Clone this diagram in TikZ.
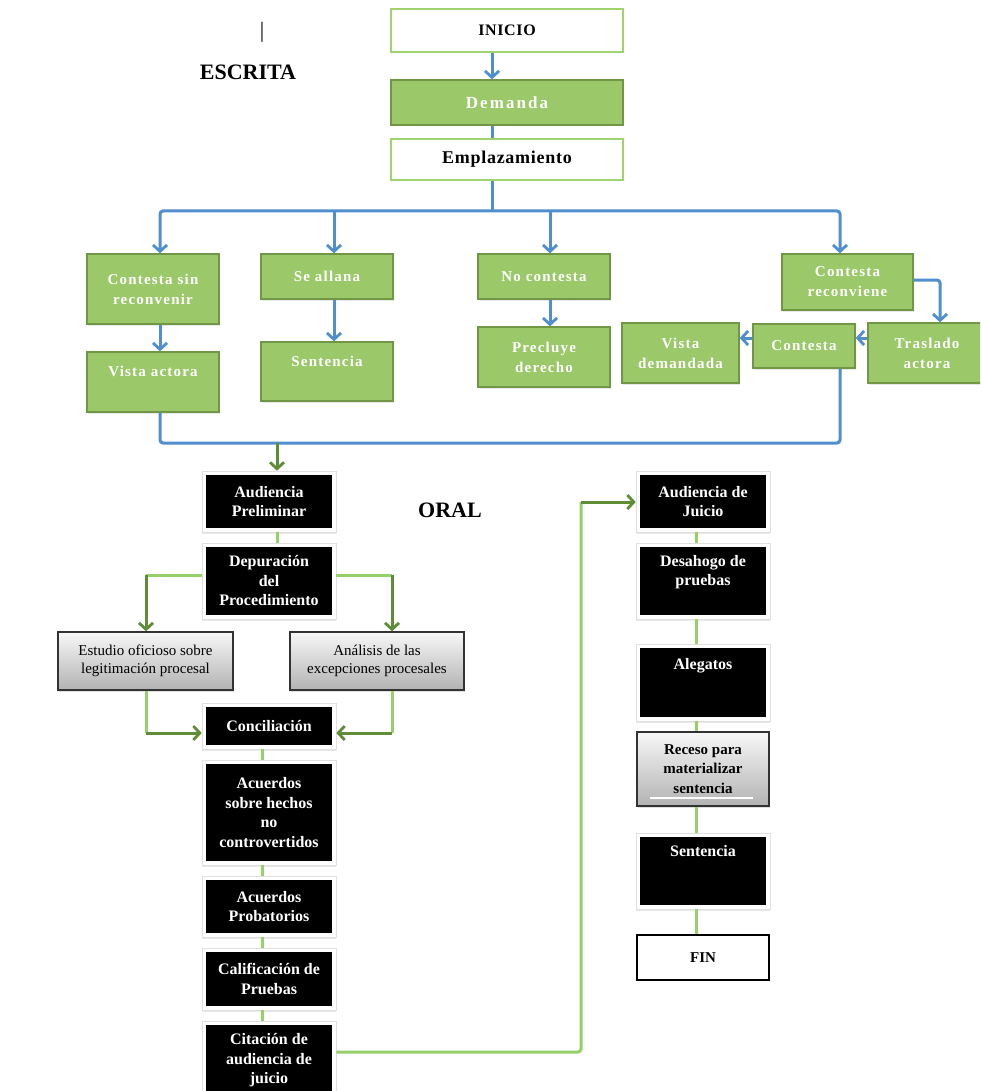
\documentclass[tikz,border=0pt]{standalone}
\usepackage{fontspec}
\setmainfont{Liberation Serif}
\newfontfamily\spacedfont{Liberation Serif}[LetterSpace=8]
\newfontfamily\widefont{Liberation Serif}[LetterSpace=12]
\newfontfamily\tightfont{Liberation Serif}[LetterSpace=4]
\usetikzlibrary{arrows.meta,shadows,calc}

\definecolor{leaf}{RGB}{155,200,105}
\definecolor{leafedge}{RGB}{112,150,70}
\definecolor{paleleaf}{RGB}{160,210,110}
\definecolor{wire}{RGB}{80,142,205}
\definecolor{lightwire}{RGB}{150,208,105}
\definecolor{darkwire}{RGB}{95,140,55}

% top-aligned box contents: height, width, top gap, text
\newcommand{\topalign}[4]{\parbox[c][#1][t]{#2}{\centering\vspace*{#3}#4}}

\begin{document}
\begin{tikzpicture}[x=1pt,y=-1pt,
  whitebox/.style={draw=paleleaf, line width=2.5pt, fill=white, inner sep=0pt, align=center, text=black},
  greenbox/.style={fill=leaf, draw=leafedge, line width=1.3pt, text=white, align=center, inner sep=0pt,
    font=\spacedfont\bfseries\fontsize{15}{20}\selectfont,
    drop shadow={opacity=0.18, shadow xshift=0.5pt, shadow yshift=-1.5pt}},
  blackbox/.style={draw=black!12, line width=0.6pt, fill=white, inner sep=0pt, align=center, text=white,
    minimum width=134, font=\bfseries\fontsize{16}{19.5}\selectfont,
    path picture={\fill[black] ([shift={(4pt,-4pt)}]path picture bounding box.north west)
      rectangle ([shift={(-4pt,4pt)}]path picture bounding box.south east);},
    drop shadow={opacity=0.18, shadow xshift=0pt, shadow yshift=-2pt}},
  graybox/.style={top color=black!3, bottom color=black!30, draw=black!80, line width=1.4pt, text=black,
    align=center, inner sep=0pt, font=\fontsize{15}{18}\selectfont,
    drop shadow={opacity=0.25, shadow xshift=1pt, shadow yshift=-2pt}},
  tip/.style={-{Straight Barb[length=6.5pt,width=14pt,line width=2.8pt]}},
  bluewire/.style={draw=wire, line width=3pt},
  bluearrow/.style={bluewire, tip},
  lightline/.style={draw=lightwire, line width=3pt},
  darkarrow/.style={draw=darkwire, line width=3pt, tip},
  heading/.style={font=\bfseries\fontsize{22}{26}\selectfont, inner sep=0pt}
]
\fill[white] (0,0) rectangle (980,1091);
\clip (0,0) rectangle (980,1091);

% ---------- headings ----------
\node[font=\fontsize{22}{26}\selectfont, inner sep=0pt] (bar) at (262,32) {|};
\node[heading] (escrita) at (248,72) {ESCRITA};
\node[heading] (oral) at (450,510) {ORAL};

% ---------- column guides ----------
\coordinate (spine) at (492,0);
\coordinate (colA) at (160,0);
\coordinate (colB) at (334,0);
\coordinate (colC) at (550,0);
\coordinate (colD) at (840,0);
\coordinate (colT) at (940,0);
\coordinate (rowC) at (0,338);
\coordinate (colP) at (277,0);
\coordinate (colL) at (262,0);
\coordinate (colR) at (696,0);

% ---------- written phase ----------
\node[whitebox, minimum width=232, minimum height=43, font=\tightfont\bfseries\fontsize{16}{19}\selectfont] (inicio) at (507,30.5) {INICIO};
\node[greenbox, minimum width=232, minimum height=45, font=\widefont\bfseries\fontsize{17}{20}\selectfont] (demanda) at (507,102.5) {Demanda};
\node[whitebox, minimum width=232, minimum height=41, font=\tightfont\bfseries\fontsize{18}{20}\selectfont] (empl) at (507,159.5) {Emplazamiento};

\node[greenbox, minimum width=132, minimum height=70] (csr) at (153,289) {Contesta sin\\reconvenir};
\node[greenbox, minimum width=132, minimum height=60] (vact) at (153,382) {\topalign{60pt}{132pt}{14pt}{Vista actora}};
\node[greenbox, minimum width=132, minimum height=45] (allana) at (327,276.5) {Se allana};
\node[greenbox, minimum width=132, minimum height=59] (sent1) at (327,371.5) {\topalign{59pt}{132pt}{14pt}{Sentencia}};
\node[greenbox, minimum width=132, minimum height=45] (nocont) at (544,276.5) {No contesta};
\node[greenbox, minimum width=132, minimum height=60] (precl) at (544,357) {Precluye\\derecho};
\node[greenbox, minimum width=131, minimum height=56] (crec) at (847.5,282) {Contesta\\reconviene};
\node[greenbox, minimum width=118, minimum height=60] (trasl) at (927,353) {Traslado\\actora};
\node[greenbox, minimum width=102, minimum height=44] (cont) at (804,346) {Contesta};
\node[greenbox, minimum width=117, minimum height=60] (vdem) at (680.5,353) {Vista\\demandada};

\draw[bluearrow] (inicio.south -| spine) -- (demanda.north -| spine);
\draw[bluewire] (demanda.south -| spine) -- (empl.north -| spine);
\coordinate (busTop) at (492,211);
\draw[bluewire] (empl.south -| spine) -- (busTop);
\draw[bluearrow, rounded corners=3pt] (busTop) -| (csr.north -| colA);
\draw[bluearrow, rounded corners=3pt] (busTop) -| (crec.north -| colD);
\draw[bluearrow] (busTop -| colB) -- (allana.north -| colB);
\draw[bluearrow] (busTop -| colC) -- (nocont.north -| colC);

\draw[bluearrow] (csr.south -| colA) -- (vact.north -| colA);
\draw[bluearrow] (allana.south -| colB) -- (sent1.north -| colB);
\draw[bluearrow] (nocont.south -| colC) -- (precl.north -| colC);
\draw[bluearrow, rounded corners=3pt] ([yshift=2pt]crec.east) -| (trasl.north -| colT);
\draw[bluearrow] (trasl.west |- rowC) -- (cont.east |- rowC);
\draw[bluearrow] (cont.west |- rowC) -- (vdem.east |- rowC);

\coordinate (busLow) at (840,443);
\coordinate (busDrop) at (277,443);
\draw[bluewire, rounded corners=3pt] (vact.south -| colA) |- (busLow) -- (cont.south -| colD);

% ---------- oral phase: preliminary hearing ----------
\node[blackbox, minimum height=61] (audp) at (269,501.5) {Audiencia\\Preliminar};
\node[blackbox, minimum height=76] (dep) at (269,581) {Depuración\\del\\Procedimiento};
\node[graybox, minimum width=175, minimum height=58] (est) at (145.5,661) {Estudio oficioso sobre\\legitimación procesal};
\node[graybox, minimum width=174, minimum height=58] (anal) at (377,661) {Análisis de las\\excepciones procesales};
\node[blackbox, minimum height=46] (conc) at (269,726) {Conciliación};
\node[blackbox, minimum height=105] (acu1) at (269,812.5) {Acuerdos\\sobre hechos\\no\\controvertidos};
\node[blackbox, minimum height=61] (acu2) at (269,906.5) {Acuerdos\\Probatorios};
\node[blackbox, minimum height=62] (calif) at (269,979) {Calificación de\\Pruebas};
\node[blackbox, minimum height=79] (cit) at (269,1060.5) {Citación de\\audiencia de\\juicio};

\draw[darkarrow] (busDrop) -- (audp.north -| colP);
\draw[lightline] (audp.south -| colP) -- (dep.north -| colP);

\coordinate (kA) at (146,575);
\coordinate (kB) at (392,575);
\coordinate (kC) at (146,733);
\coordinate (kD) at (392,733);
\draw[lightline] (dep.west |- kA) -- (kA);
\draw[darkarrow] (kA) -- (est.north -| kA);
\draw[lightline] (dep.east |- kB) -- (kB);
\draw[darkarrow] (kB) -- (anal.north -| kB);
\draw[lightline] (est.south -| kC) -- (kC);
\draw[darkarrow] (kC) -- (conc.west |- kC);
\draw[lightline] (anal.south -| kD) -- (kD);
\draw[darkarrow] (kD) -- (conc.east |- kD);

\draw[lightline] (conc.south -| colL) -- (acu1.north -| colL);
\draw[lightline] (acu1.south -| colL) -- (acu2.north -| colL);
\draw[lightline] (acu2.south -| colL) -- (calif.north -| colL);
\draw[lightline] (calif.south -| colL) -- (cit.north -| colL);

% ---------- oral phase: trial hearing ----------
\node[blackbox, minimum height=61] (audj) at (703,501.5) {Audiencia de\\Juicio};
\node[blackbox, minimum height=76, inner sep=0pt] (des) at (703,581) {\topalign{76pt}{134pt}{12pt}{Desahogo de\\pruebas}};
\node[blackbox, minimum height=77] (aleg) at (703,682.5) {\topalign{77pt}{134pt}{14pt}{Alegatos}};
\node[graybox, minimum width=132, minimum height=74, font=\bfseries\fontsize{15}{19.5}\selectfont] (rec) at (703,769) {Receso para\\materializar\\sentencia};
\draw[white, line width=2.2pt] (650,798) -- (753,798);
\node[blackbox, minimum height=76] (sent2) at (703,871) {\topalign{76pt}{134pt}{12pt}{Sentencia}};
\node[draw=black, line width=2.6pt, fill=white, minimum width=132, minimum height=45, inner sep=0pt,
  font=\bfseries\fontsize{15}{18}\selectfont] (fin) at (703,957.5) {FIN};

\coordinate (loopY) at (0,1052);
\coordinate (loopTop) at (581,502);
\draw[lightline, rounded corners=3pt] (cit.east |- loopY) -| (loopTop);
\draw[darkarrow] (loopTop) -- (audj.west |- loopTop);

\draw[lightline] (audj.south -| colR) -- (des.north -| colR);
\draw[lightline] (des.south -| colR) -- (aleg.north -| colR);
\draw[lightline] (aleg.south -| colR) -- (rec.north -| colR);
\draw[lightline] (rec.south -| colR) -- (sent2.north -| colR);
\draw[lightline] (sent2.south -| colR) -- (fin.north -| colR);
\end{tikzpicture}
\end{document}
